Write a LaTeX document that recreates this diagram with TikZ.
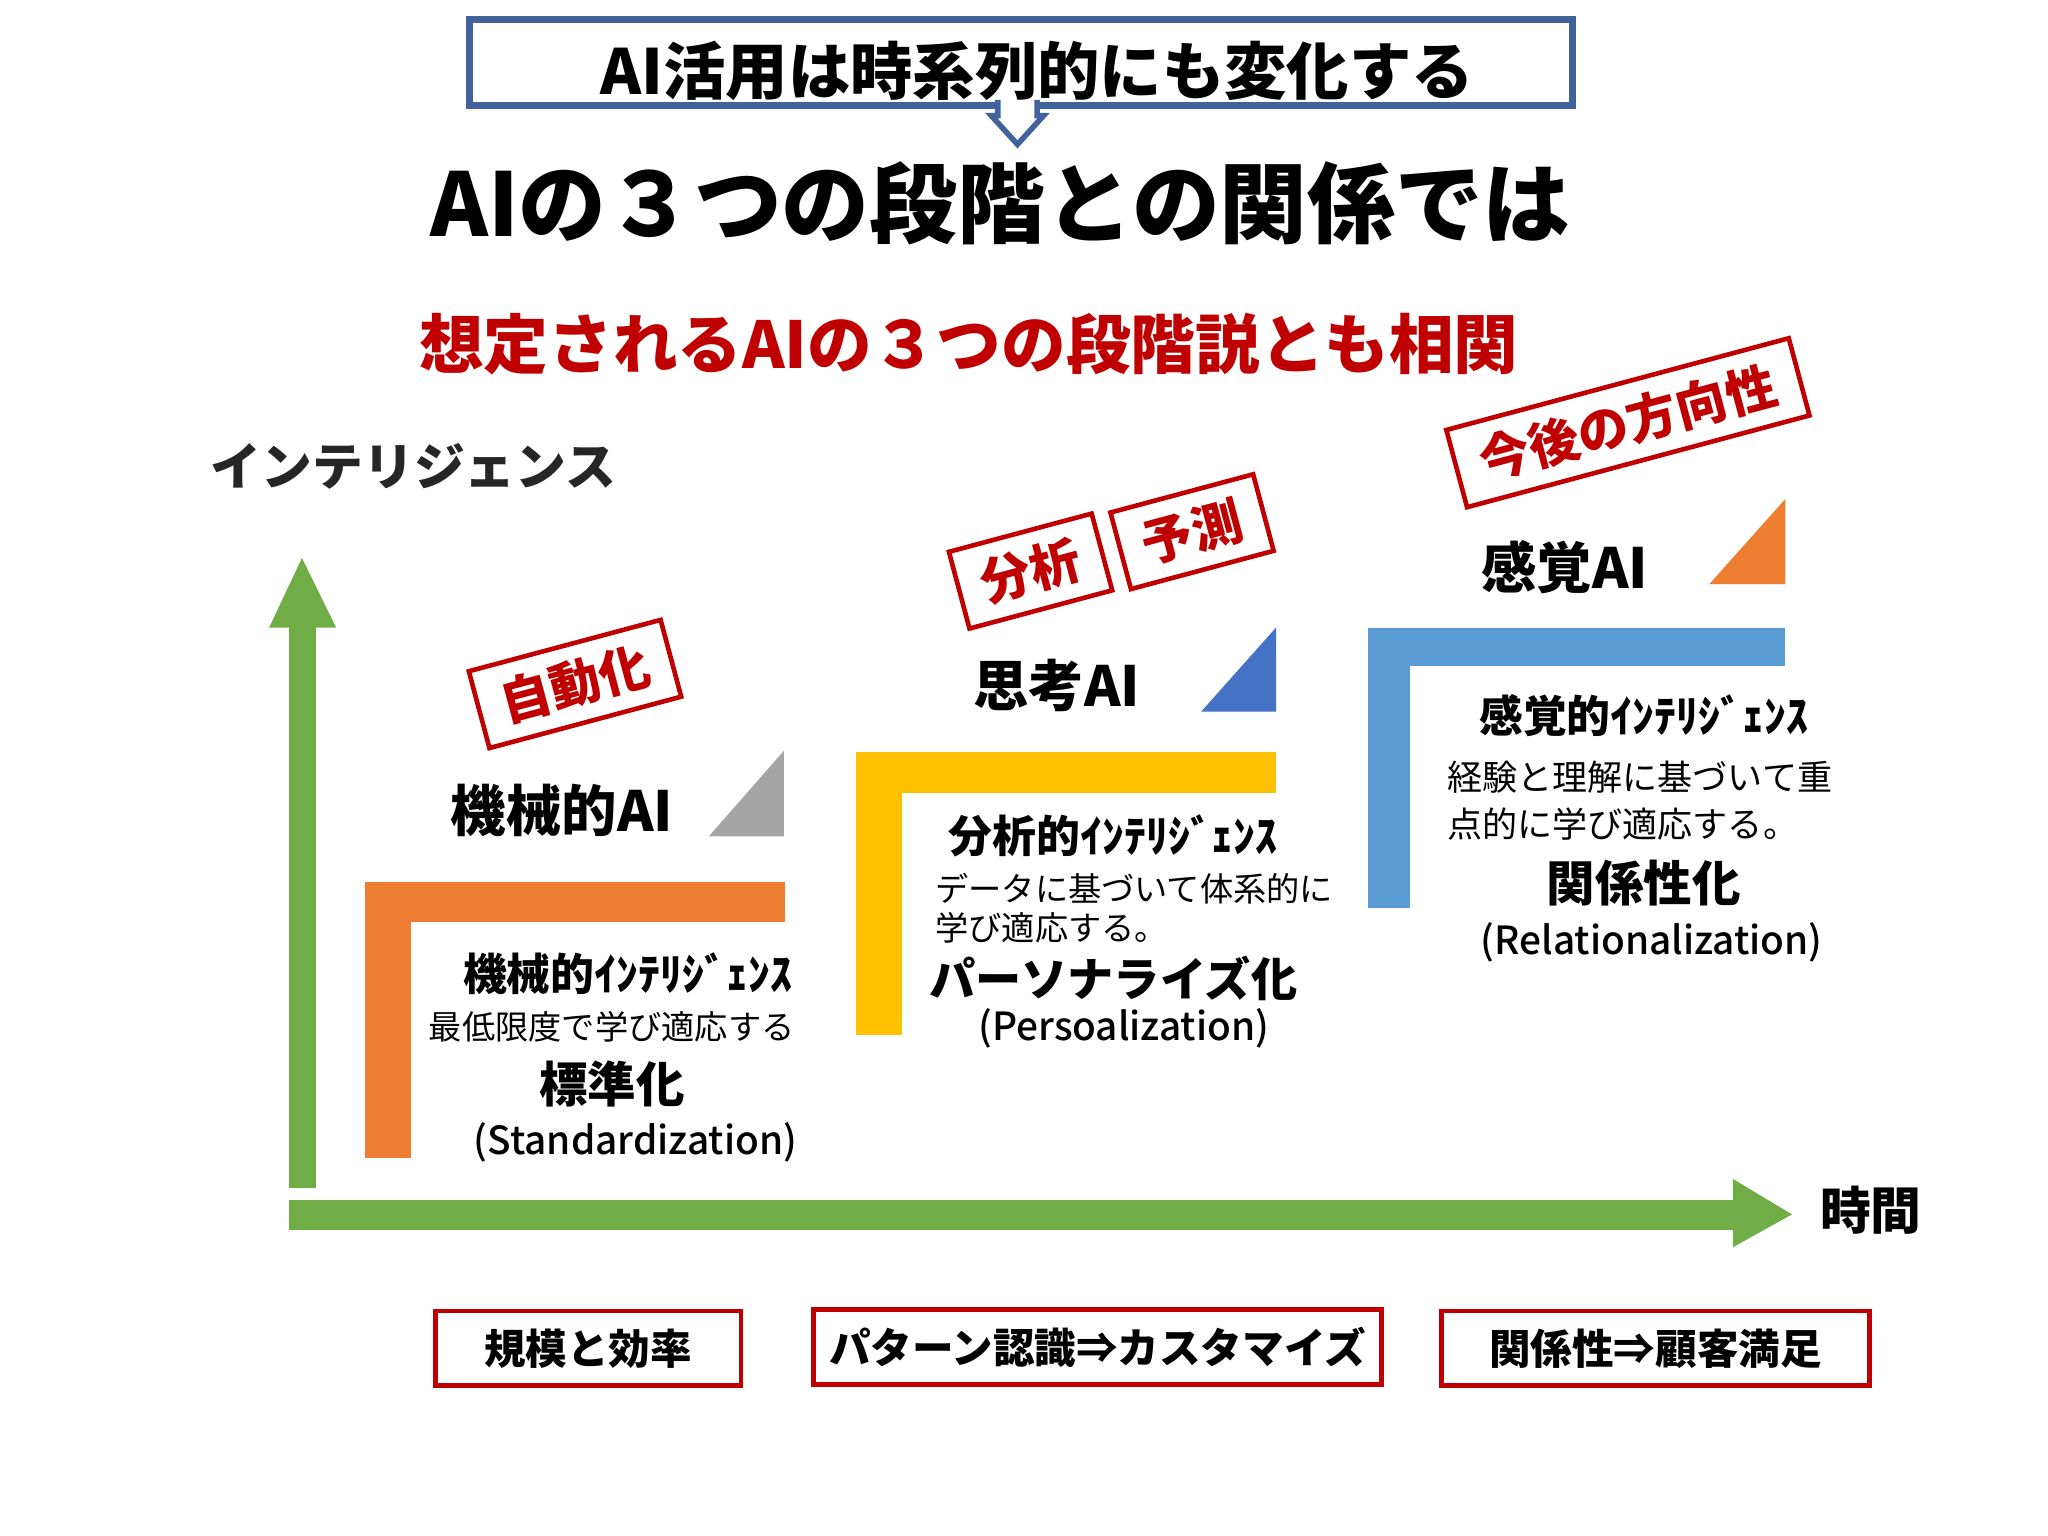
\documentclass[tikz,border=0pt]{standalone}
\usepackage{fontspec}
\setmainfont{Noto Sans CJK JP}
\newfontfamily\jpm{Noto Sans CJK JP Medium}
\begin{document}
\begin{tikzpicture}[x=0.01cm,y=-0.01cm]
\definecolor{gr}{HTML}{70AD47}\definecolor{org}{HTML}{ED7D31}\definecolor{yel}{HTML}{FFC000}
\definecolor{blu}{HTML}{5B9BD5}\definecolor{dblu}{HTML}{4472C4}\definecolor{gry}{HTML}{A5A5A5}
\definecolor{rd}{HTML}{C00000}\definecolor{tb}{HTML}{41629A}
\tikzset{
 tag/.style={draw=rd,fill=white,line width=1pt,text=rd,font=\bfseries\fontsize{11}{12}\selectfont,rotate=15,inner xsep=5pt,minimum height=16pt},
 bot/.style={draw=rd,line width=1pt,font=\bfseries\fontsize{9}{11}\selectfont,anchor=center},
 desc/.style={font=\fontsize{7.2}{9}\selectfont},
 par/.style={font=\jpm\fontsize{8.4}{10}\selectfont}}
\useasboundingbox (0,0) rectangle (1560,1170);
\fill[white] (0,0) rectangle (1560,1170);
% title
\node[draw=tb,line width=1.5pt,minimum width=840*0.01cm,minimum height=66*0.01cm,anchor=north west,inner sep=0pt] (t) at (355,12) {};
\node[font=\bfseries\fontsize{13.5}{14}\selectfont] (tt) at (790,54) {AI活用は時系列的にも変化する};
\draw[tb,fill=white,line width=1.2pt] (760,76)--(760,88)--(755,88)--(775,110)--(795,88)--(790,88)--(790,76);
\node[font=\bfseries\fontsize{19}{21}\selectfont] (h) at (762,155) {AIの３つの段階との関係では};
\node[text=rd,font=\bfseries\fontsize{14}{16}\selectfont] (r) at (738,262) {想定されるAIの３つの段階説とも相関};
\node[font=\bfseries\fontsize{11}{12}\selectfont,text=black!85] (yl) at (315,355) {インテリジェンス};
% axes
\fill[gr] (220,905) rectangle (241,470); \fill[gr] (205,478)--(256,478)--(230,425)--cycle;
\fill[gr] (220,914) rectangle (1325,937); \fill[gr] (1320,898)--(1320,950)--(1365,925)--cycle;
\node[font=\bfseries\fontsize{11}{12}\selectfont] (xl) at (1425,922) {時間};
% stage 1
\fill[org] (278,672) rectangle (313,882); \fill[org] (278,672) rectangle (598,702);
\fill[gry] (540,637)--(597,637)--(597,572)--cycle;
\node[font=\bfseries\fontsize{12}{13}\selectfont] (a1) at (428,617) {機械的AI};
\node[tag] (g1) at (438,521) {自動化};
\node[font=\bfseries\fontsize{9.5}{11}\selectfont] (i1) at (478,742) {機械的ｲﾝﾃﾘｼﾞｪﾝｽ};
\node[desc] (d1) at (466,782) {最低限度で学び適応する};
\node[font=\bfseries\fontsize{10.5}{12}\selectfont] (s1) at (466,826) {標準化};
\node[par] (e1) at (484,870) {(Standardization)};
% stage 2
\fill[yel] (652,573) rectangle (687,788); \fill[yel] (652,573) rectangle (972,604);
\fill[dblu] (915,542)--(972,542)--(972,478)--cycle;
\node[font=\bfseries\fontsize{12}{13}\selectfont] (a2) at (805,522) {思考AI};
\node[tag] (g2) at (785,435) {分析};
\node[tag] (g3) at (908,405) {予測};
\node[font=\bfseries\fontsize{9.5}{11}\selectfont] (i2) at (848,637) {分析的ｲﾝﾃﾘｼﾞｪﾝｽ};
\node[desc,anchor=west] (d2) at (700,677) {データに基づいて体系的に};
\node[desc,anchor=west] (d2b) at (700,707) {学び適応する。};
\node[font=\bfseries\fontsize{10}{12}\selectfont] (s2) at (848,745) {パーソナライズ化};
\node[par] (e2) at (856,783) {(Persoalization)};
% stage 3
\fill[blu] (1042,478) rectangle (1074,692); \fill[blu] (1042,478) rectangle (1360,507);
\fill[org] (1302,445)--(1360,445)--(1360,380)--cycle;
\node[font=\bfseries\fontsize{12}{13}\selectfont] (a3) at (1192,432) {感覚AI};
\node[tag,minimum width=270*0.01cm] (g4) at (1240,322) {今後の方向性};
\node[font=\bfseries\fontsize{9.5}{11}\selectfont] (i3) at (1252,545) {感覚的ｲﾝﾃﾘｼﾞｪﾝｽ};
\node[desc,font=\fontsize{7.6}{9}\selectfont,anchor=west] (d3) at (1090,592) {経験と理解に基づいて重};
\node[desc,font=\fontsize{7.6}{9}\selectfont,anchor=west] (d3b) at (1090,628) {点的に学び適応する。};
\node[font=\bfseries\fontsize{10.5}{12}\selectfont] (s3) at (1252,673) {関係性化};
\node[par] (e3) at (1258,718) {(Relationalization)};
% bottom
\node[bot,minimum width=233*0.01cm,minimum height=57*0.01cm] (b1) at (448,1027) {規模と効率};
\node[bot,minimum width=433*0.01cm,minimum height=57*0.01cm] (b2) at (836,1026) {パターン認識⇒カスタマイズ};
\node[bot,minimum width=326*0.01cm,minimum height=57*0.01cm] (b3) at (1261,1027) {関係性⇒顧客満足};
\end{tikzpicture}
\end{document}
